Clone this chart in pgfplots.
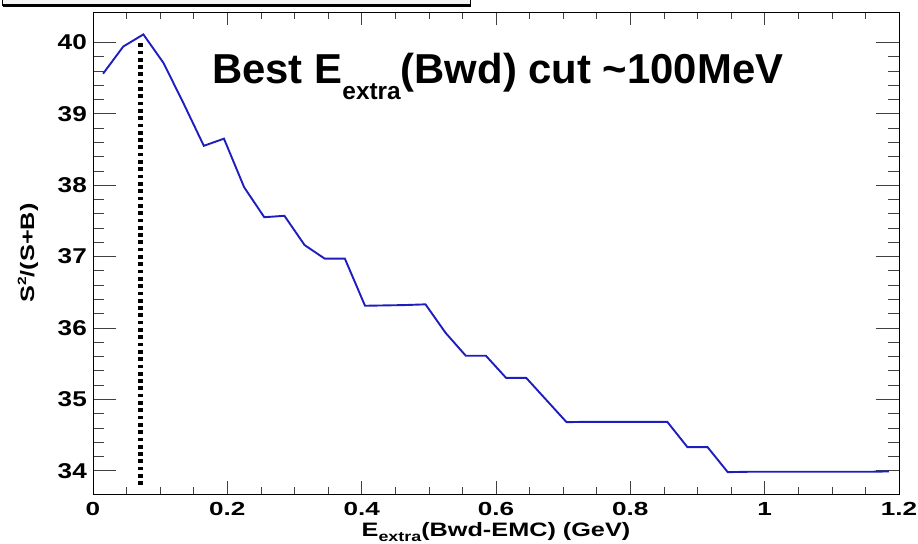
\documentclass[border=0pt]{standalone}
\usepackage{fontspec}
\setmainfont{Liberation Sans}
\newfontfamily\yfont[FakeStretch=1.22]{Liberation Sans}
\newfontfamily\xfont[FakeStretch=1.38]{Liberation Sans}
\newfontfamily\lfont[FakeStretch=1.3]{Liberation Sans}
\usepackage{pgfplots}
\pgfplotsset{compat=1.18}
\definecolor{rootblue}{RGB}{30,30,190}
\begin{document}
\begin{tikzpicture}
\useasboundingbox (0,0) rectangle (918bp,544bp);
% top (cut-off) title box
\fill[black!4] (2bp,539bp) rectangle (470bp,546bp);
\draw[line width=0.5bp] (2bp,546bp) -- (2bp,539bp) -- (470bp,539bp) -- (470bp,546bp);
\draw[line width=2.6bp] (3bp,538.4bp) -- (471bp,538.4bp);
\begin{axis}[
  at={(93bp,50bp)}, anchor=south west,
  scale only axis, width=806bp, height=482bp,
  xmin=0, xmax=1.2, ymin=33.674, ymax=40.424,
  xtick={0,0.2,0.4,0.6,0.8,1,1.2},
  ytick={34,35,36,37,38,39,40},
  minor x tick num=3, minor y tick num=4,
  tick align=inside,
  axis line style={line width=0.8bp},
  xtick style={/pgfplots/major tick length=13bp,/pgfplots/minor tick length=7bp,line width=0.6bp,color=black!75},
  ytick style={/pgfplots/major tick length=23bp,/pgfplots/minor tick length=11bp,line width=0.6bp,color=black!75},
  /pgf/number format/assume math mode=true,
  xticklabel style={font=\xfont\bfseries\fontsize{19}{19}\selectfont, anchor=north, inner sep=0pt, yshift=-8.5bp},
  yticklabel style={font=\yfont\bfseries\fontsize{21.5}{21.5}\selectfont, anchor=east, inner sep=0pt, xshift=-6bp},
  xlabel={E\raisebox{-5bp}{\fontsize{13.8}{13.8}\selectfont extra}(Bwd-EMC) (GeV)},
  xlabel style={font=\lfont\bfseries\fontsize{19.5}{19.5}\selectfont, at={(rel axis cs:0.5,0)}, anchor=base, inner sep=0pt, yshift=-42bp},
  clip=false,
]
\addplot[rootblue, line width=1.9bp] table {
x y
0.015 39.56
0.045 39.94
0.075 40.11
0.105 39.71
0.135 39.14
0.165 38.55
0.195 38.65
0.225 37.97
0.255 37.55
0.285 37.57
0.315 37.16
0.345 36.97
0.375 36.97
0.405 36.31
0.435 36.315
0.465 36.32
0.495 36.33
0.525 35.93
0.555 35.61
0.585 35.61
0.615 35.30
0.645 35.30
0.675 34.99
0.705 34.68
0.735 34.685
0.765 34.685
0.795 34.685
0.825 34.685
0.855 34.685
0.885 34.33
0.915 34.33
0.945 33.98
0.975 33.985
1.005 33.985
1.035 33.985
1.065 33.985
1.095 33.985
1.125 33.985
1.155 33.985
1.185 33.99
};
\addplot[black, line width=4.6bp, dash pattern=on 3.7bp off 3.6bp] coordinates {(0.0707,33.8) (0.0707,40.0)};
\end{axis}
\node[rotate=90, anchor=base, inner sep=0pt, font=\lfont\bfseries\fontsize{19.5}{19.5}\selectfont] at (34bp,291bp)
  {S\raisebox{8bp}{\fontsize{12}{12}\selectfont 2}/(S+B)};
\node[anchor=base west, inner sep=0pt, font=\bfseries\fontsize{42}{42}\selectfont] at (212bp,460bp)
  {Best E\raisebox{-16bp}{\fontsize{24.5}{24.5}\selectfont extra}(Bwd) cut \textasciitilde100MeV};
\end{tikzpicture}
\end{document}
